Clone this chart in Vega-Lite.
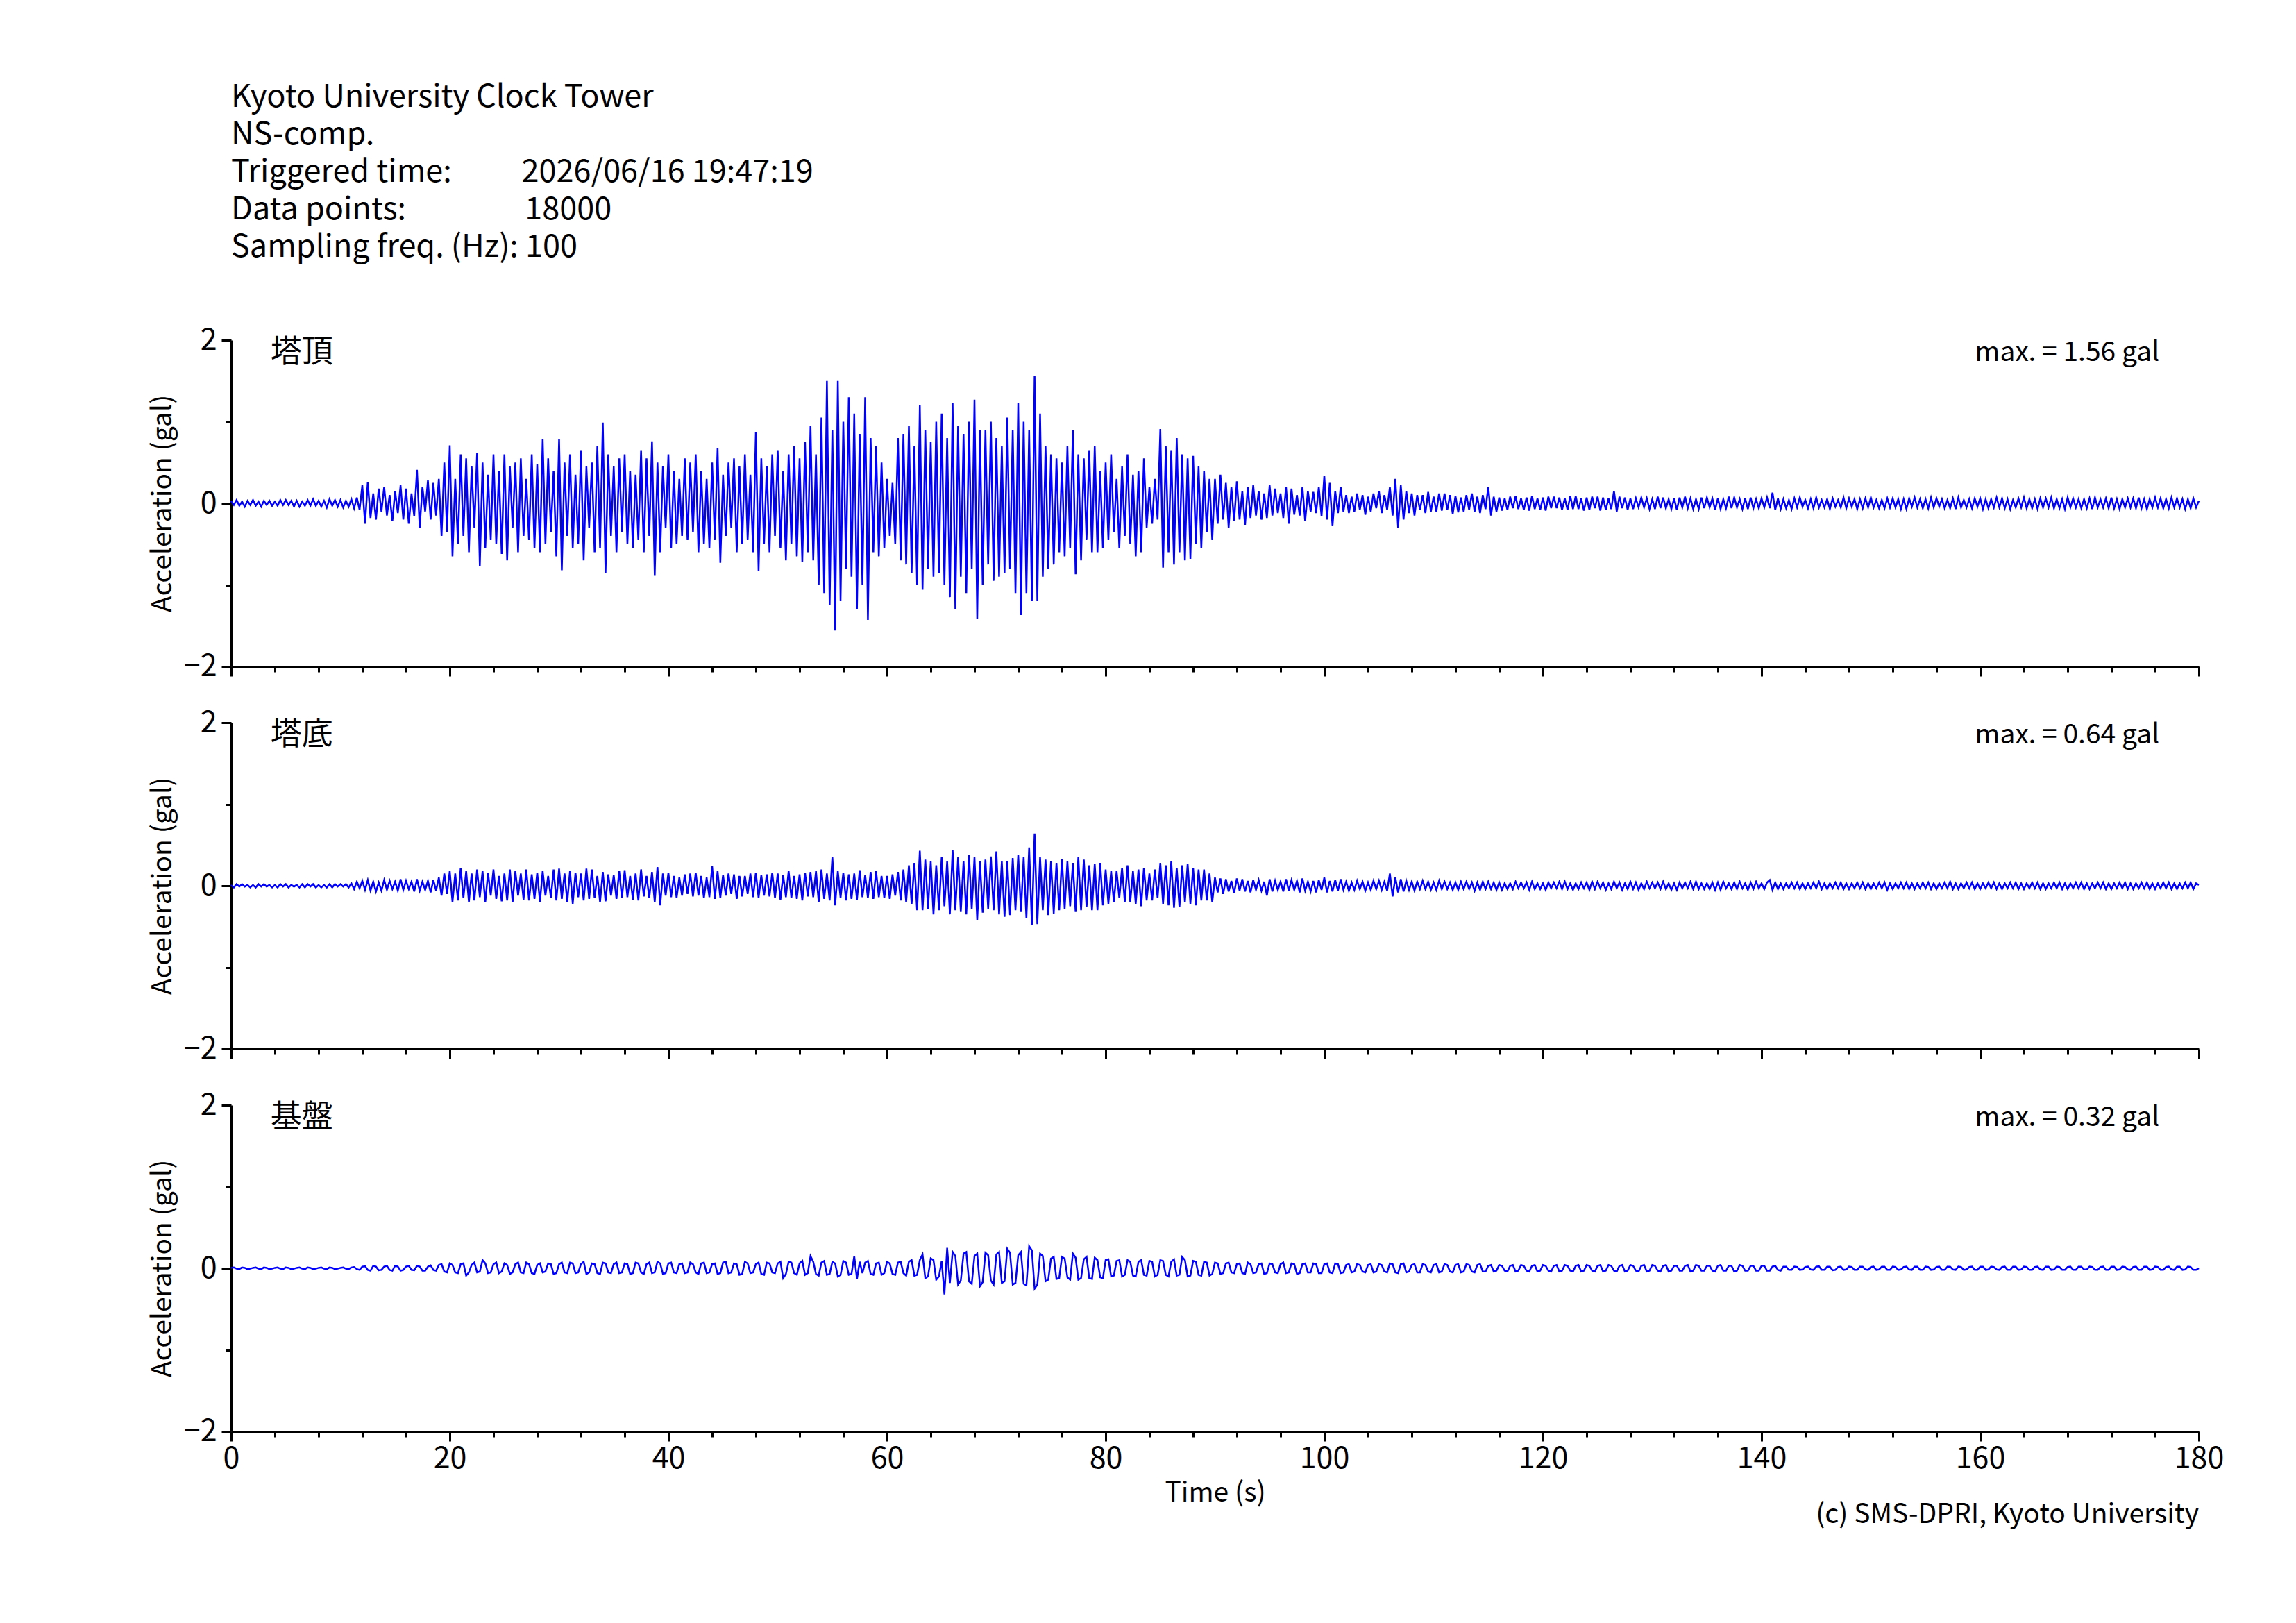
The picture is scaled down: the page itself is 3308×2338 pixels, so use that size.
{
"$schema": "https://vega.github.io/schema/vega-lite/v6.json",
"background": "white",
"autosize": {"type": "pad"},
"padding": {"left": 215, "top": 118, "right": 40, "bottom": 40},
"config": {
  "font": "Noto Sans CJK JP",
  "view": {"stroke": null},
  "axis": {"labelFont": "Noto Sans CJK JP", "titleFont": "Noto Sans CJK JP", "labelFontSize": 43, "titleFontSize": 39, "titleFontWeight": "normal", "labelColor": "black", "titleColor": "black", "domainColor": "black", "tickColor": "black", "domainWidth": 3, "tickWidth": 3, "grid": false, "labelOverlap": false, "labelFlush": false, "labelBound": false}
},
"data": {"values": [
{"t":0,"a":0.03,"b":0.01,"c":0.005},{"t":0.25,"a":-0.02,"b":-0.02,"c":0.01},{"t":0.5,"a":0.04,"b":0.02,"c":-0.005},{"t":0.75,"a":-0.03,"b":-0.01,"c":-0.01},
{"t":1,"a":0.02,"b":0.02,"c":0.01},{"t":1.25,"a":-0.04,"b":-0.01,"c":0.005},{"t":1.5,"a":0.03,"b":0.01,"c":-0.01},{"t":1.75,"a":-0.02,"b":-0.02,"c":-0.005},
{"t":2,"a":0.04,"b":0.01,"c":0.005},{"t":2.25,"a":-0.03,"b":-0.02,"c":0.01},{"t":2.5,"a":0.02,"b":0.02,"c":-0.005},{"t":2.75,"a":-0.04,"b":-0.01,"c":-0.01},
{"t":3,"a":0.03,"b":0.02,"c":0.01},{"t":3.25,"a":-0.02,"b":-0.01,"c":0.005},{"t":3.5,"a":0.03,"b":0.01,"c":-0.01},{"t":3.75,"a":-0.03,"b":-0.02,"c":-0.005},
{"t":4,"a":0.02,"b":0.01,"c":0.005},{"t":4.25,"a":-0.03,"b":-0.02,"c":0.01},{"t":4.5,"a":0.04,"b":0.02,"c":-0.005},{"t":4.75,"a":-0.02,"b":-0.01,"c":-0.01},
{"t":5,"a":0.04,"b":0.02,"c":0.01},{"t":5.25,"a":-0.02,"b":-0.02,"c":0.005},{"t":5.5,"a":0.03,"b":0.01,"c":-0.01},{"t":5.75,"a":-0.04,"b":-0.01,"c":-0.005},
{"t":6,"a":0.03,"b":0.01,"c":0.005},{"t":6.25,"a":-0.04,"b":-0.02,"c":0.01},{"t":6.5,"a":0.02,"b":0.02,"c":-0.005},{"t":6.75,"a":-0.03,"b":-0.02,"c":-0.01},
{"t":7,"a":0.04,"b":0.02,"c":0.01},{"t":7.25,"a":-0.03,"b":-0.01,"c":0.005},{"t":7.5,"a":0.05,"b":0.02,"c":-0.01},{"t":7.75,"a":-0.03,"b":-0.02,"c":-0.005},
{"t":8,"a":0.03,"b":0.01,"c":0.005},{"t":8.25,"a":-0.04,"b":-0.02,"c":0.01},{"t":8.5,"a":0.03,"b":0.01,"c":-0.005},{"t":8.75,"a":-0.05,"b":-0.02,"c":-0.01},
{"t":9,"a":0.05,"b":0.02,"c":0.01},{"t":9.25,"a":-0.03,"b":-0.02,"c":0.005},{"t":9.5,"a":0.04,"b":0.02,"c":-0.01},{"t":9.75,"a":-0.04,"b":-0.01,"c":-0.005},
{"t":10,"a":0.04,"b":0.02,"c":0.005},{"t":10.25,"a":-0.05,"b":-0.01,"c":0.01},{"t":10.5,"a":0.03,"b":0.02,"c":-0.005},{"t":10.75,"a":-0.04,"b":-0.02,"c":-0.01},
{"t":11,"a":0.05,"b":0.03,"c":0.01},{"t":11.25,"a":-0.06,"b":-0.04,"c":0.015},{"t":11.5,"a":0.07,"b":0.05,"c":-0.01},{"t":11.75,"a":-0.08,"b":-0.03,"c":-0.02},
{"t":12,"a":0.22,"b":0.06,"c":0.02},{"t":12.25,"a":-0.25,"b":-0.05,"c":0.025},{"t":12.5,"a":0.26,"b":0.07,"c":-0.02},{"t":12.75,"a":-0.18,"b":-0.06,"c":-0.03},
{"t":13,"a":0.12,"b":0.05,"c":0.03},{"t":13.25,"a":-0.2,"b":-0.07,"c":0.02},{"t":13.5,"a":0.18,"b":0.04,"c":-0.025},{"t":13.75,"a":-0.1,"b":-0.06,"c":-0.02},
{"t":14,"a":0.2,"b":0.07,"c":0.02},{"t":14.25,"a":-0.15,"b":-0.05,"c":0.03},{"t":14.5,"a":0.1,"b":0.06,"c":-0.02},{"t":14.75,"a":-0.22,"b":-0.04,"c":-0.03},
{"t":15,"a":0.15,"b":0.05,"c":0.03},{"t":15.25,"a":-0.12,"b":-0.06,"c":0.02},{"t":15.5,"a":0.22,"b":0.08,"c":-0.03},{"t":15.75,"a":-0.2,"b":-0.05,"c":-0.02},
{"t":16,"a":0.18,"b":0.06,"c":0.02},{"t":16.25,"a":-0.25,"b":-0.04,"c":0.03},{"t":16.5,"a":0.12,"b":0.05,"c":-0.02},{"t":16.75,"a":-0.16,"b":-0.07,"c":-0.025},
{"t":17,"a":0.41,"b":0.08,"c":0.03},{"t":17.25,"a":-0.3,"b":-0.06,"c":0.02},{"t":17.5,"a":0.2,"b":0.05,"c":-0.03},{"t":17.75,"a":-0.1,"b":-0.05,"c":-0.03},
{"t":18,"a":0.28,"b":0.06,"c":0.02},{"t":18.25,"a":-0.2,"b":-0.08,"c":0.035},{"t":18.5,"a":0.25,"b":0.07,"c":-0.02},{"t":18.75,"a":-0.15,"b":-0.06,"c":-0.03},
{"t":19,"a":0.3,"b":0.1,"c":0.04},{"t":19.25,"a":-0.4,"b":-0.12,"c":0.05},{"t":19.5,"a":0.5,"b":0.15,"c":-0.04},{"t":19.75,"a":-0.35,"b":-0.1,"c":-0.05},
{"t":20,"a":0.71,"b":0.18,"c":0.06},{"t":20.25,"a":-0.65,"b":-0.2,"c":0.04},{"t":20.5,"a":0.3,"b":0.15,"c":-0.05},{"t":20.75,"a":-0.5,"b":-0.18,"c":-0.06},
{"t":21,"a":0.6,"b":0.22,"c":0.05},{"t":21.25,"a":-0.4,"b":-0.15,"c":0.06},{"t":21.5,"a":0.55,"b":0.18,"c":-0.09},{"t":21.75,"a":-0.6,"b":-0.2,"c":-0.05},
{"t":22,"a":0.45,"b":0.15,"c":0.04},{"t":22.25,"a":-0.3,"b":-0.18,"c":0.07},{"t":22.5,"a":0.62,"b":0.2,"c":-0.05},{"t":22.75,"a":-0.77,"b":-0.14,"c":-0.04},
{"t":23,"a":0.5,"b":0.18,"c":0.1},{"t":23.25,"a":-0.55,"b":-0.2,"c":0.06},{"t":23.5,"a":0.35,"b":0.16,"c":-0.06},{"t":23.75,"a":-0.45,"b":-0.12,"c":-0.05},
{"t":24,"a":0.6,"b":0.2,"c":0.05},{"t":24.25,"a":-0.5,"b":-0.16,"c":0.07},{"t":24.5,"a":0.4,"b":0.12,"c":-0.06},{"t":24.75,"a":-0.62,"b":-0.19,"c":-0.04},
{"t":25,"a":0.6,"b":0.15,"c":0.06},{"t":25.25,"a":-0.7,"b":-0.18,"c":0.04},{"t":25.5,"a":0.45,"b":0.2,"c":-0.07},{"t":25.75,"a":-0.3,"b":-0.2,"c":-0.05},
{"t":26,"a":0.5,"b":0.18,"c":0.05},{"t":26.25,"a":-0.6,"b":-0.12,"c":0.07},{"t":26.5,"a":0.55,"b":0.15,"c":-0.05},{"t":26.75,"a":-0.4,"b":-0.17,"c":-0.06},
{"t":27,"a":0.3,"b":0.2,"c":0.07},{"t":27.25,"a":-0.45,"b":-0.18,"c":0.05},{"t":27.5,"a":0.6,"b":0.14,"c":-0.06},{"t":27.75,"a":-0.55,"b":-0.16,"c":-0.07},
{"t":28,"a":0.48,"b":0.16,"c":0.04},{"t":28.25,"a":-0.6,"b":-0.2,"c":0.06},{"t":28.5,"a":0.79,"b":0.18,"c":-0.05},{"t":28.75,"a":-0.5,"b":-0.12,"c":-0.04},
{"t":29,"a":0.55,"b":0.12,"c":0.06},{"t":29.25,"a":-0.35,"b":-0.15,"c":0.05},{"t":29.5,"a":0.4,"b":0.2,"c":-0.07},{"t":29.75,"a":-0.65,"b":-0.18,"c":-0.06},
{"t":30,"a":0.79,"b":0.21,"c":0.05},{"t":30.25,"a":-0.82,"b":-0.16,"c":0.07},{"t":30.5,"a":0.5,"b":0.15,"c":-0.05},{"t":30.75,"a":-0.4,"b":-0.2,"c":-0.06},
{"t":31,"a":0.6,"b":0.18,"c":0.07},{"t":31.25,"a":-0.55,"b":-0.22,"c":0.06},{"t":31.5,"a":0.35,"b":0.16,"c":-0.06},{"t":31.75,"a":-0.5,"b":-0.14,"c":-0.05},
{"t":32,"a":0.65,"b":0.15,"c":0.05},{"t":32.25,"a":-0.7,"b":-0.18,"c":0.08},{"t":32.5,"a":0.45,"b":0.21,"c":-0.07},{"t":32.75,"a":-0.3,"b":-0.16,"c":-0.05},
{"t":33,"a":0.5,"b":0.2,"c":0.06},{"t":33.25,"a":-0.6,"b":-0.15,"c":0.05},{"t":33.5,"a":0.7,"b":0.12,"c":-0.06},{"t":33.75,"a":-0.55,"b":-0.2,"c":-0.07},
{"t":34,"a":0.99,"b":0.17,"c":0.07},{"t":34.25,"a":-0.85,"b":-0.19,"c":0.06},{"t":34.5,"a":0.6,"b":0.14,"c":-0.05},{"t":34.75,"a":-0.4,"b":-0.12,"c":-0.06},
{"t":35,"a":0.45,"b":0.13,"c":0.05},{"t":35.25,"a":-0.6,"b":-0.16,"c":0.07},{"t":35.5,"a":0.55,"b":0.18,"c":-0.06},{"t":35.75,"a":-0.35,"b":-0.15,"c":-0.05},
{"t":36,"a":0.6,"b":0.19,"c":0.06},{"t":36.25,"a":-0.5,"b":-0.14,"c":0.05},{"t":36.5,"a":0.4,"b":0.12,"c":-0.07},{"t":36.75,"a":-0.55,"b":-0.17,"c":-0.06},
{"t":37,"a":0.35,"b":0.15,"c":0.07},{"t":37.25,"a":-0.45,"b":-0.18,"c":0.06},{"t":37.5,"a":0.65,"b":0.2,"c":-0.05},{"t":37.75,"a":-0.6,"b":-0.13,"c":-0.07},
{"t":38,"a":0.55,"b":0.12,"c":0.05},{"t":38.25,"a":-0.4,"b":-0.15,"c":0.07},{"t":38.5,"a":0.76,"b":0.17,"c":-0.06},{"t":38.75,"a":-0.89,"b":-0.2,"c":-0.05},
{"t":39,"a":0.5,"b":0.23,"c":0.08},{"t":39.25,"a":-0.6,"b":-0.24,"c":0.06},{"t":39.5,"a":0.45,"b":0.15,"c":-0.07},{"t":39.75,"a":-0.3,"b":-0.12,"c":-0.06},
{"t":40,"a":0.6,"b":0.16,"c":0.06},{"t":40.25,"a":-0.55,"b":-0.14,"c":0.07},{"t":40.5,"a":0.4,"b":0.12,"c":-0.05},{"t":40.75,"a":-0.5,"b":-0.15,"c":-0.06},
{"t":41,"a":0.3,"b":0.1,"c":0.05},{"t":41.25,"a":-0.4,"b":-0.12,"c":0.06},{"t":41.5,"a":0.55,"b":0.14,"c":-0.06},{"t":41.75,"a":-0.45,"b":-0.1,"c":-0.05},
{"t":42,"a":0.5,"b":0.15,"c":0.07},{"t":42.25,"a":-0.35,"b":-0.13,"c":0.05},{"t":42.5,"a":0.6,"b":0.16,"c":-0.05},{"t":42.75,"a":-0.6,"b":-0.12,"c":-0.07},
{"t":43,"a":0.4,"b":0.12,"c":0.06},{"t":43.25,"a":-0.5,"b":-0.15,"c":0.07},{"t":43.5,"a":0.3,"b":0.1,"c":-0.06},{"t":43.75,"a":-0.55,"b":-0.14,"c":-0.05},
{"t":44,"a":0.5,"b":0.24,"c":0.05},{"t":44.25,"a":-0.45,"b":-0.16,"c":0.06},{"t":44.5,"a":0.68,"b":0.18,"c":-0.07},{"t":44.75,"a":-0.73,"b":-0.15,"c":-0.06},
{"t":45,"a":0.35,"b":0.13,"c":0.07},{"t":45.25,"a":-0.4,"b":-0.12,"c":0.08},{"t":45.5,"a":0.5,"b":0.15,"c":-0.06},{"t":45.75,"a":-0.3,"b":-0.1,"c":-0.05},
{"t":46,"a":0.55,"b":0.14,"c":0.06},{"t":46.25,"a":-0.6,"b":-0.16,"c":0.05},{"t":46.5,"a":0.45,"b":0.12,"c":-0.08},{"t":46.75,"a":-0.5,"b":-0.13,"c":-0.07},
{"t":47,"a":0.6,"b":0.12,"c":0.08},{"t":47.25,"a":-0.45,"b":-0.1,"c":0.06},{"t":47.5,"a":0.35,"b":0.15,"c":-0.06},{"t":47.75,"a":-0.6,"b":-0.14,"c":-0.05},
{"t":48,"a":0.87,"b":0.16,"c":0.05},{"t":48.25,"a":-0.83,"b":-0.15,"c":0.07},{"t":48.5,"a":0.55,"b":0.13,"c":-0.07},{"t":48.75,"a":-0.5,"b":-0.12,"c":-0.08},
{"t":49,"a":0.45,"b":0.14,"c":0.07},{"t":49.25,"a":-0.6,"b":-0.13,"c":0.06},{"t":49.5,"a":0.6,"b":0.16,"c":-0.05},{"t":49.75,"a":-0.4,"b":-0.15,"c":-0.06},
{"t":50,"a":0.65,"b":0.15,"c":0.06},{"t":50.25,"a":-0.55,"b":-0.17,"c":0.08},{"t":50.5,"a":0.4,"b":0.13,"c":-0.12},{"t":50.75,"a":-0.7,"b":-0.14,"c":-0.07},
{"t":51,"a":0.6,"b":0.18,"c":0.08},{"t":51.25,"a":-0.5,"b":-0.15,"c":0.07},{"t":51.5,"a":0.7,"b":0.12,"c":-0.06},{"t":51.75,"a":-0.65,"b":-0.16,"c":-0.08},
{"t":52,"a":0.55,"b":0.14,"c":0.06},{"t":52.25,"a":-0.72,"b":-0.18,"c":0.09},{"t":52.5,"a":0.75,"b":0.16,"c":-0.08},{"t":52.75,"a":-0.6,"b":-0.13,"c":-0.06},
{"t":53,"a":0.95,"b":0.17,"c":0.15},{"t":53.25,"a":-0.7,"b":-0.14,"c":0.08},{"t":53.5,"a":0.6,"b":0.18,"c":-0.07},{"t":53.75,"a":-1.0,"b":-0.2,"c":-0.09},
{"t":54,"a":1.05,"b":0.2,"c":0.07},{"t":54.25,"a":-1.1,"b":-0.16,"c":0.09},{"t":54.5,"a":1.5,"b":0.15,"c":-0.08},{"t":54.75,"a":-1.25,"b":-0.18,"c":-0.07},
{"t":55,"a":0.9,"b":0.35,"c":0.08},{"t":55.25,"a":-1.56,"b":-0.24,"c":0.06},{"t":55.5,"a":1.5,"b":0.18,"c":-0.1},{"t":55.75,"a":-1.2,"b":-0.15,"c":-0.08},
{"t":56,"a":1.0,"b":0.16,"c":0.09},{"t":56.25,"a":-0.8,"b":-0.18,"c":0.07},{"t":56.5,"a":1.3,"b":0.14,"c":-0.08},{"t":56.75,"a":-0.9,"b":-0.16,"c":-0.07},
{"t":57,"a":1.1,"b":0.15,"c":0.15},{"t":57.25,"a":-1.3,"b":-0.17,"c":-0.13},{"t":57.5,"a":0.85,"b":0.19,"c":0.08},{"t":57.75,"a":-1.0,"b":-0.14,"c":-0.06},
{"t":58,"a":1.3,"b":0.13,"c":0.07},{"t":58.25,"a":-1.43,"b":-0.15,"c":0.09},{"t":58.5,"a":0.8,"b":0.17,"c":-0.07},{"t":58.75,"a":-0.6,"b":-0.16,"c":-0.08},
{"t":59,"a":0.7,"b":0.18,"c":0.06},{"t":59.25,"a":-0.65,"b":-0.14,"c":0.07},{"t":59.5,"a":0.5,"b":0.12,"c":-0.08},{"t":59.75,"a":-0.55,"b":-0.15,"c":-0.06},
{"t":60,"a":0.3,"b":0.12,"c":0.08},{"t":60.25,"a":-0.4,"b":-0.16,"c":0.06},{"t":60.5,"a":0.25,"b":0.14,"c":-0.07},{"t":60.75,"a":-0.5,"b":-0.12,"c":-0.08},
{"t":61,"a":0.8,"b":0.17,"c":0.07},{"t":61.25,"a":-0.7,"b":-0.18,"c":0.08},{"t":61.5,"a":0.85,"b":0.2,"c":-0.06},{"t":61.75,"a":-0.75,"b":-0.2,"c":-0.09},
{"t":62,"a":0.95,"b":0.25,"c":0.08},{"t":62.25,"a":-0.85,"b":-0.22,"c":0.1},{"t":62.5,"a":0.7,"b":0.28,"c":-0.09},{"t":62.75,"a":-1.0,"b":-0.3,"c":-0.08},
{"t":63,"a":1.2,"b":0.43,"c":0.1},{"t":63.25,"a":-1.06,"b":-0.3,"c":0.17},{"t":63.5,"a":0.9,"b":0.32,"c":-0.12},{"t":63.75,"a":-0.8,"b":-0.28,"c":-0.1},
{"t":64,"a":0.75,"b":0.3,"c":0.12},{"t":64.25,"a":-0.9,"b":-0.35,"c":0.1},{"t":64.5,"a":1.0,"b":0.25,"c":-0.14},{"t":64.75,"a":-0.85,"b":-0.3,"c":-0.1},
{"t":65,"a":1.1,"b":0.35,"c":0.09},{"t":65.25,"a":-1.0,"b":-0.25,"c":-0.32},{"t":65.5,"a":0.8,"b":0.3,"c":0.25},{"t":65.75,"a":-1.15,"b":-0.35,"c":-0.18},
{"t":66,"a":1.23,"b":0.44,"c":0.2},{"t":66.25,"a":-1.3,"b":-0.3,"c":0.15},{"t":66.5,"a":0.95,"b":0.35,"c":-0.2},{"t":66.75,"a":-0.9,"b":-0.32,"c":-0.15},
{"t":67,"a":0.85,"b":0.3,"c":0.18},{"t":67.25,"a":-1.1,"b":-0.35,"c":0.2},{"t":67.5,"a":1.0,"b":0.38,"c":-0.16},{"t":67.75,"a":-0.8,"b":-0.28,"c":-0.19},
{"t":68,"a":1.27,"b":0.35,"c":0.15},{"t":68.25,"a":-1.42,"b":-0.42,"c":0.18},{"t":68.5,"a":0.9,"b":0.3,"c":-0.22},{"t":68.75,"a":-1.0,"b":-0.33,"c":-0.17},
{"t":69,"a":0.9,"b":0.32,"c":0.19},{"t":69.25,"a":-0.75,"b":-0.28,"c":0.16},{"t":69.5,"a":1.0,"b":0.36,"c":-0.15},{"t":69.75,"a":-0.95,"b":-0.3,"c":-0.2},
{"t":70,"a":0.8,"b":0.42,"c":0.17},{"t":70.25,"a":-0.9,"b":-0.35,"c":0.2},{"t":70.5,"a":0.7,"b":0.3,"c":-0.18},{"t":70.75,"a":-0.85,"b":-0.38,"c":-0.16},
{"t":71,"a":1.05,"b":0.3,"c":0.24},{"t":71.25,"a":-0.8,"b":-0.36,"c":0.19},{"t":71.5,"a":0.9,"b":0.34,"c":-0.2},{"t":71.75,"a":-1.1,"b":-0.3,"c":-0.18},
{"t":72,"a":1.23,"b":0.38,"c":0.16},{"t":72.25,"a":-1.37,"b":-0.32,"c":0.2},{"t":72.5,"a":1.0,"b":0.35,"c":-0.19},{"t":72.75,"a":-1.1,"b":-0.4,"c":-0.21},
{"t":73,"a":0.9,"b":0.47,"c":0.27},{"t":73.25,"a":-1.2,"b":-0.48,"c":0.22},{"t":73.5,"a":1.56,"b":0.64,"c":-0.25},{"t":73.75,"a":-1.2,"b":-0.47,"c":-0.2},
{"t":74,"a":1.1,"b":0.35,"c":0.18},{"t":74.25,"a":-0.9,"b":-0.3,"c":0.15},{"t":74.5,"a":0.7,"b":0.32,"c":-0.16},{"t":74.75,"a":-0.8,"b":-0.36,"c":-0.14},
{"t":75,"a":0.6,"b":0.3,"c":0.12},{"t":75.25,"a":-0.75,"b":-0.34,"c":0.14},{"t":75.5,"a":0.55,"b":0.28,"c":-0.13},{"t":75.75,"a":-0.6,"b":-0.3,"c":-0.12},
{"t":76,"a":0.5,"b":0.33,"c":0.14},{"t":76.25,"a":-0.65,"b":-0.28,"c":0.12},{"t":76.5,"a":0.7,"b":0.3,"c":-0.11},{"t":76.75,"a":-0.55,"b":-0.25,"c":-0.14},
{"t":77,"a":0.9,"b":0.28,"c":0.18},{"t":77.25,"a":-0.87,"b":-0.32,"c":0.13},{"t":77.5,"a":0.6,"b":0.35,"c":-0.14},{"t":77.75,"a":-0.7,"b":-0.3,"c":-0.12},
{"t":78,"a":0.55,"b":0.32,"c":0.11},{"t":78.25,"a":-0.45,"b":-0.26,"c":0.14},{"t":78.5,"a":0.65,"b":0.25,"c":-0.12},{"t":78.75,"a":-0.6,"b":-0.3,"c":-0.13},
{"t":79,"a":0.7,"b":0.27,"c":0.13},{"t":79.25,"a":-0.6,"b":-0.3,"c":0.1},{"t":79.5,"a":0.4,"b":0.28,"c":-0.11},{"t":79.75,"a":-0.55,"b":-0.24,"c":-0.12},
{"t":80,"a":0.5,"b":0.2,"c":0.1},{"t":80.25,"a":-0.45,"b":-0.22,"c":0.11},{"t":80.5,"a":0.6,"b":0.18,"c":-0.1},{"t":80.75,"a":-0.35,"b":-0.2,"c":-0.09},
{"t":81,"a":0.3,"b":0.18,"c":0.09},{"t":81.25,"a":-0.55,"b":-0.15,"c":0.1},{"t":81.5,"a":0.45,"b":0.22,"c":-0.1},{"t":81.75,"a":-0.4,"b":-0.2,"c":-0.08},
{"t":82,"a":0.6,"b":0.25,"c":0.1},{"t":82.25,"a":-0.5,"b":-0.2,"c":0.08},{"t":82.5,"a":0.35,"b":0.18,"c":-0.09},{"t":82.75,"a":-0.65,"b":-0.22,"c":-0.1},
{"t":83,"a":0.4,"b":0.2,"c":0.08},{"t":83.25,"a":-0.6,"b":-0.25,"c":0.1},{"t":83.5,"a":0.55,"b":0.22,"c":-0.08},{"t":83.75,"a":-0.3,"b":-0.18,"c":-0.09},
{"t":84,"a":0.2,"b":0.15,"c":0.09},{"t":84.25,"a":-0.25,"b":-0.18,"c":0.08},{"t":84.5,"a":0.3,"b":0.2,"c":-0.1},{"t":84.75,"a":-0.2,"b":-0.15,"c":-0.08},
{"t":85,"a":0.91,"b":0.28,"c":0.1},{"t":85.25,"a":-0.79,"b":-0.22,"c":0.09},{"t":85.5,"a":0.7,"b":0.25,"c":-0.08},{"t":85.75,"a":-0.6,"b":-0.24,"c":-0.1},
{"t":86,"a":0.65,"b":0.3,"c":0.08},{"t":86.25,"a":-0.75,"b":-0.27,"c":0.11},{"t":86.5,"a":0.8,"b":0.22,"c":-0.09},{"t":86.75,"a":-0.6,"b":-0.26,"c":-0.08},
{"t":87,"a":0.6,"b":0.25,"c":0.14},{"t":87.25,"a":-0.7,"b":-0.2,"c":0.1},{"t":87.5,"a":0.55,"b":0.27,"c":-0.1},{"t":87.75,"a":-0.68,"b":-0.22,"c":-0.09},
{"t":88,"a":0.58,"b":0.22,"c":0.09},{"t":88.25,"a":-0.5,"b":-0.24,"c":0.08},{"t":88.5,"a":0.45,"b":0.2,"c":-0.08},{"t":88.75,"a":-0.55,"b":-0.18,"c":-0.09},
{"t":89,"a":0.4,"b":0.2,"c":0.08},{"t":89.25,"a":-0.35,"b":-0.18,"c":0.07},{"t":89.5,"a":0.3,"b":0.15,"c":-0.09},{"t":89.75,"a":-0.45,"b":-0.2,"c":-0.07},
{"t":90,"a":0.3,"b":0.1,"c":0.07},{"t":90.25,"a":-0.25,"b":-0.08,"c":0.06},{"t":90.5,"a":0.35,"b":0.09,"c":-0.07},{"t":90.75,"a":-0.2,"b":-0.1,"c":-0.06},
{"t":91,"a":0.25,"b":0.08,"c":0.06},{"t":91.25,"a":-0.3,"b":-0.07,"c":0.07},{"t":91.5,"a":0.2,"b":0.06,"c":-0.05},{"t":91.75,"a":-0.22,"b":-0.09,"c":-0.06},
{"t":92,"a":0.27,"b":0.09,"c":0.05},{"t":92.25,"a":-0.2,"b":-0.06,"c":0.06},{"t":92.5,"a":0.15,"b":0.08,"c":-0.06},{"t":92.75,"a":-0.27,"b":-0.07,"c":-0.07},
{"t":93,"a":0.2,"b":0.06,"c":0.07},{"t":93.25,"a":-0.18,"b":-0.08,"c":0.05},{"t":93.5,"a":0.22,"b":0.07,"c":-0.06},{"t":93.75,"a":-0.15,"b":-0.05,"c":-0.05},
{"t":94,"a":0.15,"b":0.07,"c":0.05},{"t":94.25,"a":-0.2,"b":-0.06,"c":0.06},{"t":94.5,"a":0.12,"b":0.05,"c":-0.07},{"t":94.75,"a":-0.18,"b":-0.12,"c":-0.06},
{"t":95,"a":0.22,"b":0.08,"c":0.06},{"t":95.25,"a":-0.15,"b":-0.07,"c":0.05},{"t":95.5,"a":0.18,"b":0.06,"c":-0.05},{"t":95.75,"a":-0.12,"b":-0.05,"c":-0.06},
{"t":96,"a":0.12,"b":0.05,"c":0.05},{"t":96.25,"a":-0.18,"b":-0.07,"c":0.07},{"t":96.5,"a":0.2,"b":0.08,"c":-0.06},{"t":96.75,"a":-0.25,"b":-0.06,"c":-0.05},
{"t":97,"a":0.18,"b":0.07,"c":0.06},{"t":97.25,"a":-0.14,"b":-0.05,"c":0.05},{"t":97.5,"a":0.1,"b":0.06,"c":-0.07},{"t":97.75,"a":-0.15,"b":-0.08,"c":-0.06},
{"t":98,"a":0.2,"b":0.09,"c":0.05},{"t":98.25,"a":-0.22,"b":-0.06,"c":0.06},{"t":98.5,"a":0.15,"b":0.05,"c":-0.05},{"t":98.75,"a":-0.1,"b":-0.07,"c":-0.05},
{"t":99,"a":0.14,"b":0.06,"c":0.06},{"t":99.25,"a":-0.12,"b":-0.08,"c":0.05},{"t":99.5,"a":0.2,"b":0.07,"c":-0.06},{"t":99.75,"a":-0.16,"b":-0.05,"c":-0.06},
{"t":100,"a":0.34,"b":0.1,"c":0.05},{"t":100.25,"a":-0.2,"b":-0.08,"c":0.06},{"t":100.5,"a":0.25,"b":0.06,"c":-0.05},{"t":100.75,"a":-0.28,"b":-0.07,"c":-0.06},
{"t":101,"a":0.15,"b":0.07,"c":0.06},{"t":101.25,"a":-0.12,"b":-0.06,"c":0.05},{"t":101.5,"a":0.2,"b":0.08,"c":-0.06},{"t":101.75,"a":-0.1,"b":-0.05,"c":-0.05},
{"t":102,"a":0.1,"b":0.05,"c":0.04},{"t":102.25,"a":-0.12,"b":-0.06,"c":0.05},{"t":102.5,"a":0.08,"b":0.04,"c":-0.05},{"t":102.75,"a":-0.1,"b":-0.05,"c":-0.04},
{"t":103,"a":0.12,"b":0.06,"c":0.05},{"t":103.25,"a":-0.08,"b":-0.04,"c":0.04},{"t":103.5,"a":0.1,"b":0.05,"c":-0.04},{"t":103.75,"a":-0.14,"b":-0.06,"c":-0.05},
{"t":104,"a":0.08,"b":0.04,"c":0.04},{"t":104.25,"a":-0.1,"b":-0.05,"c":0.05},{"t":104.5,"a":0.12,"b":0.06,"c":-0.05},{"t":104.75,"a":-0.06,"b":-0.04,"c":-0.04},
{"t":105,"a":0.15,"b":0.06,"c":0.05},{"t":105.25,"a":-0.12,"b":-0.05,"c":0.04},{"t":105.5,"a":0.1,"b":0.05,"c":-0.04},{"t":105.75,"a":-0.08,"b":-0.06,"c":-0.05},
{"t":106,"a":0.2,"b":0.15,"c":0.06},{"t":106.25,"a":-0.15,"b":-0.13,"c":0.05},{"t":106.5,"a":0.3,"b":0.1,"c":-0.05},{"t":106.75,"a":-0.3,"b":-0.08,"c":-0.06},
{"t":107,"a":0.22,"b":0.08,"c":0.05},{"t":107.25,"a":-0.2,"b":-0.07,"c":0.06},{"t":107.5,"a":0.15,"b":0.06,"c":-0.05},{"t":107.75,"a":-0.12,"b":-0.05,"c":-0.04},
{"t":108,"a":0.12,"b":0.05,"c":0.04},{"t":108.25,"a":-0.15,"b":-0.06,"c":0.05},{"t":108.5,"a":0.1,"b":0.05,"c":-0.05},{"t":108.75,"a":-0.08,"b":-0.04,"c":-0.05},
{"t":109,"a":0.1,"b":0.06,"c":0.05},{"t":109.25,"a":-0.12,"b":-0.04,"c":0.04},{"t":109.5,"a":0.14,"b":0.05,"c":-0.04},{"t":109.75,"a":-0.1,"b":-0.05,"c":-0.05},
{"t":110,"a":0.08,"b":0.04,"c":0.04},{"t":110.25,"a":-0.1,"b":-0.05,"c":0.05},{"t":110.5,"a":0.12,"b":0.06,"c":-0.05},{"t":110.75,"a":-0.09,"b":-0.04,"c":-0.04},
{"t":111,"a":0.12,"b":0.05,"c":0.05},{"t":111.25,"a":-0.08,"b":-0.04,"c":0.04},{"t":111.5,"a":0.1,"b":0.04,"c":-0.04},{"t":111.75,"a":-0.13,"b":-0.05,"c":-0.05},
{"t":112,"a":0.09,"b":0.04,"c":0.04},{"t":112.25,"a":-0.11,"b":-0.05,"c":0.05},{"t":112.5,"a":0.07,"b":0.05,"c":-0.05},{"t":112.75,"a":-0.1,"b":-0.04,"c":-0.04},
{"t":113,"a":0.1,"b":0.05,"c":0.05},{"t":113.25,"a":-0.08,"b":-0.04,"c":0.04},{"t":113.5,"a":0.12,"b":0.04,"c":-0.04},{"t":113.75,"a":-0.1,"b":-0.06,"c":-0.05},
{"t":114,"a":0.08,"b":0.04,"c":0.04},{"t":114.25,"a":-0.12,"b":-0.05,"c":0.05},{"t":114.5,"a":0.1,"b":0.05,"c":-0.04},{"t":114.75,"a":-0.07,"b":-0.04,"c":-0.04},
{"t":115,"a":0.2,"b":0.05,"c":0.03},{"t":115.25,"a":-0.15,"b":-0.04,"c":0.04},{"t":115.5,"a":0.08,"b":0.04,"c":-0.04},{"t":115.75,"a":-0.1,"b":-0.05,"c":-0.03},
{"t":116,"a":0.07,"b":0.04,"c":0.04},{"t":116.25,"a":-0.09,"b":-0.05,"c":0.03},{"t":116.5,"a":0.06,"b":0.03,"c":-0.03},{"t":116.75,"a":-0.08,"b":-0.04,"c":-0.04},
{"t":117,"a":0.08,"b":0.03,"c":0.03},{"t":117.25,"a":-0.06,"b":-0.04,"c":0.04},{"t":117.5,"a":0.09,"b":0.05,"c":-0.04},{"t":117.75,"a":-0.07,"b":-0.03,"c":-0.03},
{"t":118,"a":0.06,"b":0.04,"c":0.04},{"t":118.25,"a":-0.08,"b":-0.03,"c":0.03},{"t":118.5,"a":0.07,"b":0.04,"c":-0.03},{"t":118.75,"a":-0.09,"b":-0.05,"c":-0.04},
{"t":119,"a":0.09,"b":0.05,"c":0.03},{"t":119.25,"a":-0.07,"b":-0.04,"c":0.04},{"t":119.5,"a":0.06,"b":0.03,"c":-0.04},{"t":119.75,"a":-0.08,"b":-0.04,"c":-0.03},
{"t":120,"a":0.07,"b":0.03,"c":0.04},{"t":120.25,"a":-0.09,"b":-0.05,"c":0.03},{"t":120.5,"a":0.08,"b":0.04,"c":-0.03},{"t":120.75,"a":-0.06,"b":-0.03,"c":-0.04},
{"t":121,"a":0.08,"b":0.04,"c":0.03},{"t":121.25,"a":-0.06,"b":-0.03,"c":0.04},{"t":121.5,"a":0.07,"b":0.05,"c":-0.04},{"t":121.75,"a":-0.08,"b":-0.04,"c":-0.03},
{"t":122,"a":0.06,"b":0.05,"c":0.04},{"t":122.25,"a":-0.08,"b":-0.04,"c":0.03},{"t":122.5,"a":0.09,"b":0.03,"c":-0.03},{"t":122.75,"a":-0.07,"b":-0.05,"c":-0.04},
{"t":123,"a":0.09,"b":0.03,"c":0.03},{"t":123.25,"a":-0.07,"b":-0.04,"c":0.04},{"t":123.5,"a":0.06,"b":0.04,"c":-0.04},{"t":123.75,"a":-0.09,"b":-0.03,"c":-0.03},
{"t":124,"a":0.07,"b":0.04,"c":0.04},{"t":124.25,"a":-0.08,"b":-0.05,"c":0.03},{"t":124.5,"a":0.08,"b":0.05,"c":-0.03},{"t":124.75,"a":-0.06,"b":-0.04,"c":-0.04},
{"t":125,"a":0.08,"b":0.05,"c":0.03},{"t":125.25,"a":-0.09,"b":-0.03,"c":0.04},{"t":125.5,"a":0.07,"b":0.04,"c":-0.04},{"t":125.75,"a":-0.08,"b":-0.05,"c":-0.03},
{"t":126,"a":0.06,"b":0.03,"c":0.04},{"t":126.25,"a":-0.07,"b":-0.04,"c":0.03},{"t":126.5,"a":0.15,"b":0.05,"c":-0.03},{"t":126.75,"a":-0.1,"b":-0.03,"c":-0.04},
{"t":127,"a":0.08,"b":0.04,"c":0.03},{"t":127.25,"a":-0.06,"b":-0.05,"c":0.04},{"t":127.5,"a":0.07,"b":0.03,"c":-0.04},{"t":127.75,"a":-0.08,"b":-0.04,"c":-0.03},
{"t":128,"a":0.06,"b":0.05,"c":0.04},{"t":128.25,"a":-0.07,"b":-0.04,"c":0.03},{"t":128.5,"a":0.06,"b":0.04,"c":-0.03},{"t":128.75,"a":-0.05,"b":-0.05,"c":-0.04},
{"t":129,"a":0.07,"b":0.03,"c":0.03},{"t":129.25,"a":-0.05,"b":-0.04,"c":0.04},{"t":129.5,"a":0.06,"b":0.05,"c":-0.04},{"t":129.75,"a":-0.07,"b":-0.03,"c":-0.03},
{"t":130,"a":0.05,"b":0.04,"c":0.04},{"t":130.25,"a":-0.07,"b":-0.03,"c":0.03},{"t":130.5,"a":0.08,"b":0.04,"c":-0.03},{"t":130.75,"a":-0.06,"b":-0.04,"c":-0.04},
{"t":131,"a":0.07,"b":0.05,"c":0.03},{"t":131.25,"a":-0.06,"b":-0.04,"c":0.04},{"t":131.5,"a":0.05,"b":0.03,"c":-0.04},{"t":131.75,"a":-0.07,"b":-0.05,"c":-0.03},
{"t":132,"a":0.06,"b":0.03,"c":0.03},{"t":132.25,"a":-0.08,"b":-0.05,"c":0.03},{"t":132.5,"a":0.07,"b":0.04,"c":-0.03},{"t":132.75,"a":-0.05,"b":-0.03,"c":-0.03},
{"t":133,"a":0.08,"b":0.04,"c":0.03},{"t":133.25,"a":-0.06,"b":-0.03,"c":0.04},{"t":133.5,"a":0.06,"b":0.05,"c":-0.04},{"t":133.75,"a":-0.07,"b":-0.04,"c":-0.03},
{"t":134,"a":0.05,"b":0.05,"c":0.04},{"t":134.25,"a":-0.07,"b":-0.04,"c":0.03},{"t":134.5,"a":0.07,"b":0.03,"c":-0.03},{"t":134.75,"a":-0.06,"b":-0.04,"c":-0.03},
{"t":135,"a":0.07,"b":0.03,"c":0.03},{"t":135.25,"a":-0.05,"b":-0.04,"c":0.03},{"t":135.5,"a":0.06,"b":0.04,"c":-0.03},{"t":135.75,"a":-0.08,"b":-0.05,"c":-0.04},
{"t":136,"a":0.06,"b":0.04,"c":0.03},{"t":136.25,"a":-0.07,"b":-0.05,"c":0.04},{"t":136.5,"a":0.05,"b":0.05,"c":-0.03},{"t":136.75,"a":-0.06,"b":-0.03,"c":-0.03},
{"t":137,"a":0.08,"b":0.03,"c":0.03},{"t":137.25,"a":-0.06,"b":-0.04,"c":0.03},{"t":137.5,"a":0.07,"b":0.04,"c":-0.04},{"t":137.75,"a":-0.05,"b":-0.04,"c":-0.03},
{"t":138,"a":0.05,"b":0.05,"c":0.04},{"t":138.25,"a":-0.07,"b":-0.03,"c":0.03},{"t":138.5,"a":0.06,"b":0.03,"c":-0.03},{"t":138.75,"a":-0.07,"b":-0.05,"c":-0.03},
{"t":139,"a":0.07,"b":0.04,"c":0.03},{"t":139.25,"a":-0.06,"b":-0.04,"c":0.03},{"t":139.5,"a":0.05,"b":0.05,"c":-0.03},{"t":139.75,"a":-0.06,"b":-0.03,"c":-0.03},
{"t":140,"a":0.06,"b":0.03,"c":0.03},{"t":140.25,"a":-0.05,"b":-0.04,"c":0.03},{"t":140.5,"a":0.07,"b":0.04,"c":-0.03},{"t":140.75,"a":-0.06,"b":0.07,"c":-0.03},
{"t":141,"a":0.13,"b":-0.05,"c":0.02},{"t":141.25,"a":-0.08,"b":0.04,"c":0.03},{"t":141.5,"a":0.06,"b":-0.04,"c":-0.02},{"t":141.75,"a":-0.07,"b":0.03,"c":-0.03},
{"t":142,"a":0.05,"b":-0.04,"c":0.02},{"t":142.25,"a":-0.06,"b":0.03,"c":0.02},{"t":142.5,"a":0.04,"b":-0.03,"c":-0.02},{"t":142.75,"a":-0.07,"b":0.04,"c":-0.02},
{"t":143,"a":0.06,"b":-0.03,"c":0.02},{"t":143.25,"a":-0.05,"b":0.04,"c":0.015},{"t":143.5,"a":0.07,"b":-0.04,"c":-0.02},{"t":143.75,"a":-0.04,"b":0.03,"c":-0.015},
{"t":144,"a":0.04,"b":-0.04,"c":0.015},{"t":144.25,"a":-0.06,"b":0.03,"c":0.02},{"t":144.5,"a":0.05,"b":-0.03,"c":-0.015},{"t":144.75,"a":-0.06,"b":0.04,"c":-0.02},
{"t":145,"a":0.07,"b":-0.03,"c":0.02},{"t":145.25,"a":-0.05,"b":0.05,"c":0.025},{"t":145.5,"a":0.04,"b":-0.04,"c":-0.02},{"t":145.75,"a":-0.05,"b":0.03,"c":-0.02},
{"t":146,"a":0.05,"b":-0.04,"c":0.02},{"t":146.25,"a":-0.07,"b":0.03,"c":0.02},{"t":146.5,"a":0.06,"b":-0.03,"c":-0.025},{"t":146.75,"a":-0.04,"b":0.04,"c":-0.02},
{"t":147,"a":0.04,"b":-0.03,"c":0.015},{"t":147.25,"a":-0.05,"b":0.04,"c":0.02},{"t":147.5,"a":0.07,"b":-0.04,"c":-0.02},{"t":147.75,"a":-0.06,"b":0.03,"c":-0.015},
{"t":148,"a":0.06,"b":-0.04,"c":0.02},{"t":148.25,"a":-0.04,"b":0.03,"c":0.015},{"t":148.5,"a":0.05,"b":-0.03,"c":-0.02},{"t":148.75,"a":-0.07,"b":0.04,"c":-0.02},
{"t":149,"a":0.05,"b":-0.03,"c":0.02},{"t":149.25,"a":-0.06,"b":0.04,"c":0.02},{"t":149.5,"a":0.06,"b":-0.04,"c":-0.015},{"t":149.75,"a":-0.05,"b":0.03,"c":-0.02},
{"t":150,"a":0.07,"b":-0.04,"c":0.015},{"t":150.25,"a":-0.05,"b":0.03,"c":0.02},{"t":150.5,"a":0.04,"b":-0.03,"c":-0.02},{"t":150.75,"a":-0.06,"b":0.04,"c":-0.015},
{"t":151,"a":0.04,"b":-0.03,"c":0.02},{"t":151.25,"a":-0.06,"b":0.04,"c":0.02},{"t":151.5,"a":0.06,"b":-0.05,"c":-0.02},{"t":151.75,"a":-0.05,"b":0.03,"c":-0.02},
{"t":152,"a":0.06,"b":-0.04,"c":0.02},{"t":152.25,"a":-0.05,"b":0.03,"c":0.015},{"t":152.5,"a":0.05,"b":-0.03,"c":-0.02},{"t":152.75,"a":-0.07,"b":0.04,"c":-0.015},
{"t":153,"a":0.05,"b":-0.03,"c":0.015},{"t":153.25,"a":-0.07,"b":0.04,"c":0.02},{"t":153.5,"a":0.06,"b":-0.04,"c":-0.015},{"t":153.75,"a":-0.04,"b":0.03,"c":-0.02},
{"t":154,"a":0.07,"b":-0.04,"c":0.02},{"t":154.25,"a":-0.05,"b":0.03,"c":0.02},{"t":154.5,"a":0.05,"b":-0.03,"c":-0.02},{"t":154.75,"a":-0.06,"b":0.04,"c":-0.02},
{"t":155,"a":0.05,"b":-0.03,"c":0.02},{"t":155.25,"a":-0.06,"b":0.04,"c":0.015},{"t":155.5,"a":0.07,"b":-0.04,"c":-0.02},{"t":155.75,"a":-0.05,"b":0.03,"c":-0.015},
{"t":156,"a":0.06,"b":-0.04,"c":0.015},{"t":156.25,"a":-0.04,"b":0.03,"c":0.02},{"t":156.5,"a":0.05,"b":-0.03,"c":-0.02},{"t":156.75,"a":-0.06,"b":0.04,"c":-0.02},
{"t":157,"a":0.04,"b":-0.03,"c":0.02},{"t":157.25,"a":-0.06,"b":0.05,"c":0.02},{"t":157.5,"a":0.06,"b":-0.04,"c":-0.015},{"t":157.75,"a":-0.07,"b":0.03,"c":-0.02},
{"t":158,"a":0.07,"b":-0.04,"c":0.02},{"t":158.25,"a":-0.05,"b":0.03,"c":0.015},{"t":158.5,"a":0.04,"b":-0.03,"c":-0.02},{"t":158.75,"a":-0.05,"b":0.04,"c":-0.015},
{"t":159,"a":0.05,"b":-0.03,"c":0.015},{"t":159.25,"a":-0.06,"b":0.04,"c":0.02},{"t":159.5,"a":0.06,"b":-0.04,"c":-0.02},{"t":159.75,"a":-0.04,"b":0.03,"c":-0.02},
{"t":160,"a":0.06,"b":-0.04,"c":0.02},{"t":160.25,"a":-0.07,"b":0.03,"c":0.02},{"t":160.5,"a":0.05,"b":-0.03,"c":-0.02},{"t":160.75,"a":-0.06,"b":0.04,"c":-0.015},
{"t":161,"a":0.05,"b":-0.03,"c":0.02},{"t":161.25,"a":-0.05,"b":0.04,"c":0.015},{"t":161.5,"a":0.07,"b":-0.04,"c":-0.015},{"t":161.75,"a":-0.05,"b":0.03,"c":-0.02},
{"t":162,"a":0.06,"b":-0.04,"c":0.015},{"t":162.25,"a":-0.06,"b":0.03,"c":0.02},{"t":162.5,"a":0.05,"b":-0.03,"c":-0.02},{"t":162.75,"a":-0.07,"b":0.04,"c":-0.02},
{"t":163,"a":0.04,"b":-0.03,"c":0.02},{"t":163.25,"a":-0.05,"b":0.04,"c":0.02},{"t":163.5,"a":0.06,"b":-0.04,"c":-0.02},{"t":163.75,"a":-0.05,"b":0.03,"c":-0.015},
{"t":164,"a":0.07,"b":-0.04,"c":0.02},{"t":164.25,"a":-0.06,"b":0.03,"c":0.015},{"t":164.5,"a":0.05,"b":-0.03,"c":-0.02},{"t":164.75,"a":-0.06,"b":0.04,"c":-0.02},
{"t":165,"a":0.05,"b":-0.03,"c":0.015},{"t":165.25,"a":-0.07,"b":0.04,"c":0.02},{"t":165.5,"a":0.06,"b":-0.04,"c":-0.015},{"t":165.75,"a":-0.05,"b":0.03,"c":-0.02},
{"t":166,"a":0.06,"b":-0.04,"c":0.02},{"t":166.25,"a":-0.05,"b":0.03,"c":0.02},{"t":166.5,"a":0.07,"b":-0.03,"c":-0.02},{"t":166.75,"a":-0.06,"b":0.04,"c":-0.015},
{"t":167,"a":0.05,"b":-0.03,"c":0.02},{"t":167.25,"a":-0.06,"b":0.04,"c":0.015},{"t":167.5,"a":0.05,"b":-0.04,"c":-0.02},{"t":167.75,"a":-0.07,"b":0.03,"c":-0.02},
{"t":168,"a":0.07,"b":-0.04,"c":0.015},{"t":168.25,"a":-0.05,"b":0.03,"c":0.02},{"t":168.5,"a":0.06,"b":-0.03,"c":-0.02},{"t":168.75,"a":-0.05,"b":0.04,"c":-0.02},
{"t":169,"a":0.05,"b":-0.03,"c":0.02},{"t":169.25,"a":-0.06,"b":0.04,"c":0.02},{"t":169.5,"a":0.05,"b":-0.04,"c":-0.015},{"t":169.75,"a":-0.06,"b":0.03,"c":-0.015},
{"t":170,"a":0.06,"b":-0.04,"c":0.02},{"t":170.25,"a":-0.07,"b":0.03,"c":0.015},{"t":170.5,"a":0.07,"b":-0.03,"c":-0.02},{"t":170.75,"a":-0.05,"b":0.04,"c":-0.02},
{"t":171,"a":0.05,"b":-0.03,"c":0.015},{"t":171.25,"a":-0.05,"b":0.04,"c":0.02},{"t":171.5,"a":0.06,"b":-0.04,"c":-0.02},{"t":171.75,"a":-0.06,"b":0.03,"c":-0.02},
{"t":172,"a":0.07,"b":-0.04,"c":0.02},{"t":172.25,"a":-0.06,"b":0.03,"c":0.02},{"t":172.5,"a":0.05,"b":-0.03,"c":-0.02},{"t":172.75,"a":-0.07,"b":0.04,"c":-0.015},
{"t":173,"a":0.05,"b":-0.03,"c":0.02},{"t":173.25,"a":-0.05,"b":0.04,"c":0.015},{"t":173.5,"a":0.06,"b":-0.04,"c":-0.015},{"t":173.75,"a":-0.05,"b":0.03,"c":-0.02},
{"t":174,"a":0.06,"b":-0.04,"c":0.015},{"t":174.25,"a":-0.06,"b":0.03,"c":0.02},{"t":174.5,"a":0.07,"b":-0.03,"c":-0.02},{"t":174.75,"a":-0.06,"b":0.04,"c":-0.02},
{"t":175,"a":0.05,"b":-0.03,"c":0.02},{"t":175.25,"a":-0.07,"b":0.04,"c":0.02},{"t":175.5,"a":0.05,"b":-0.04,"c":-0.02},{"t":175.75,"a":-0.05,"b":0.03,"c":-0.015},
{"t":176,"a":0.07,"b":-0.04,"c":0.02},{"t":176.25,"a":-0.05,"b":0.03,"c":0.015},{"t":176.5,"a":0.06,"b":-0.03,"c":-0.02},{"t":176.75,"a":-0.06,"b":0.04,"c":-0.02},
{"t":177,"a":0.05,"b":-0.03,"c":0.015},{"t":177.25,"a":-0.06,"b":0.04,"c":0.02},{"t":177.5,"a":0.07,"b":-0.04,"c":-0.015},{"t":177.75,"a":-0.05,"b":0.03,"c":-0.02},
{"t":178,"a":0.06,"b":-0.04,"c":0.02},{"t":178.25,"a":-0.05,"b":0.03,"c":0.02},{"t":178.5,"a":0.05,"b":-0.03,"c":-0.02},{"t":178.75,"a":-0.07,"b":0.04,"c":-0.015},
{"t":179,"a":0.05,"b":-0.03,"c":0.02},{"t":179.25,"a":-0.06,"b":0.04,"c":0.015},{"t":179.5,"a":0.06,"b":-0.04,"c":-0.02},{"t":179.75,"a":-0.05,"b":0.03,"c":-0.02},
{"t":180,"a":0.03,"b":0.01,"c":0}
]},
"spacing": 81,
"bounds": "flush",
"vconcat": [
{
  "width": 2835, "height": 470,
  "title": {"text": ["Kyoto University Clock Tower", "NS-comp.", "Triggered time:\u00a0\u00a0\u00a0\u00a0\u00a0\u00a0\u00a0\u00a0\u00a0\u00a02026/06/16 19:47:19", "Data points:\u00a0\u00a0\u00a0\u00a0\u00a0\u00a0\u00a0\u00a0\u00a0\u00a0\u00a0\u00a0\u00a0\u00a0\u00a0\u00a0\u00a018000", "Sampling freq. (Hz): 100"], "anchor": "start", "frame": "group", "orient": "top", "baseline": "bottom", "fontSize": 45, "fontWeight": "normal", "lineHeight": 54, "color": "black", "font": "Noto Sans CJK JP", "offset": 45},
  "layer": [
    {"mark": {"type": "line", "color": "#0000ff", "strokeWidth": 2.5},
     "encoding": {
       "x": {"field": "t", "type": "quantitative", "scale": {"domain": [0, 180], "nice": false, "zero": false},
             "axis": {"values": [0,2,4,6,8,10,12,14,16,18,20,22,24,26,28,30,32,34,36,38,40,42,44,46,48,50,52,54,56,58,60,62,64,66,68,70,72,74,76,78,80,82,84,86,88,90,92,94,96,98,100,102,104,106,108,110,112,114,116,118,120,122,124,126,128,130,132,134,136,138,140,142,144,146,148,150,152,154,156,158,160,162,164,166,168,170,172,174,176,178,180], "labels": false, "title": null, "tickSize": {"condition": {"test": "datum.value % 20 === 0", "value": 14}, "value": 8}}},
       "y": {"field": "a", "type": "quantitative", "scale": {"domain": [-2, 2], "nice": false},
             "axis": {"values": [-2,-1,0,1,2], "format": "d", "labelExpr": "datum.value % 2 === 0 ? datum.label : ''", "tickSize": {"condition": {"test": "datum.value % 2 === 0", "value": 14}, "value": 8}, "labelPadding": 7, "title": "Acceleration (gal)", "titlePadding": 10}}
     }},
    {"data": {"values": [{"name": "塔頂", "max": "max. = 1.56 gal"}]},
     "mark": {"type": "text", "align": "left", "baseline": "middle", "fontSize": 45, "color": "black"},
     "encoding": {"x": {"datum": 3.6}, "y": {"datum": 1.85}, "text": {"field": "name"}}},
    {"data": {"values": [{"name": "塔頂", "max": "max. = 1.56 gal"}]},
     "mark": {"type": "text", "align": "right", "baseline": "middle", "fontSize": 39, "color": "black"},
     "encoding": {"x": {"datum": 176.4}, "y": {"datum": 1.85}, "text": {"field": "max"}}}
  ]
},
{
  "width": 2835, "height": 470,
  "layer": [
    {"mark": {"type": "line", "color": "#0000ff", "strokeWidth": 2.5},
     "encoding": {
       "x": {"field": "t", "type": "quantitative", "scale": {"domain": [0, 180], "nice": false, "zero": false},
             "axis": {"values": [0,2,4,6,8,10,12,14,16,18,20,22,24,26,28,30,32,34,36,38,40,42,44,46,48,50,52,54,56,58,60,62,64,66,68,70,72,74,76,78,80,82,84,86,88,90,92,94,96,98,100,102,104,106,108,110,112,114,116,118,120,122,124,126,128,130,132,134,136,138,140,142,144,146,148,150,152,154,156,158,160,162,164,166,168,170,172,174,176,178,180], "labels": false, "title": null, "tickSize": {"condition": {"test": "datum.value % 20 === 0", "value": 14}, "value": 8}}},
       "y": {"field": "b", "type": "quantitative", "scale": {"domain": [-2, 2], "nice": false},
             "axis": {"values": [-2,-1,0,1,2], "format": "d", "labelExpr": "datum.value % 2 === 0 ? datum.label : ''", "tickSize": {"condition": {"test": "datum.value % 2 === 0", "value": 14}, "value": 8}, "labelPadding": 7, "title": "Acceleration (gal)", "titlePadding": 10}}
     }},
    {"data": {"values": [{"name": "塔底", "max": "max. = 0.64 gal"}]},
     "mark": {"type": "text", "align": "left", "baseline": "middle", "fontSize": 45, "color": "black"},
     "encoding": {"x": {"datum": 3.6}, "y": {"datum": 1.85}, "text": {"field": "name"}}},
    {"data": {"values": [{"name": "塔底", "max": "max. = 0.64 gal"}]},
     "mark": {"type": "text", "align": "right", "baseline": "middle", "fontSize": 39, "color": "black"},
     "encoding": {"x": {"datum": 176.4}, "y": {"datum": 1.85}, "text": {"field": "max"}}}
  ]
},
{
  "width": 2835, "height": 470,
  "title": {"text": "(c) SMS-DPRI, Kyoto University", "orient": "bottom", "anchor": "end", "frame": "group", "baseline": "top", "fontSize": 39, "fontWeight": "normal", "color": "black", "font": "Noto Sans CJK JP", "offset": -7},
  "layer": [
    {"mark": {"type": "line", "color": "#0000ff", "strokeWidth": 2.5},
     "encoding": {
       "x": {"field": "t", "type": "quantitative", "scale": {"domain": [0, 180], "nice": false, "zero": false},
             "axis": {"values": [0,2,4,6,8,10,12,14,16,18,20,22,24,26,28,30,32,34,36,38,40,42,44,46,48,50,52,54,56,58,60,62,64,66,68,70,72,74,76,78,80,82,84,86,88,90,92,94,96,98,100,102,104,106,108,110,112,114,116,118,120,122,124,126,128,130,132,134,136,138,140,142,144,146,148,150,152,154,156,158,160,162,164,166,168,170,172,174,176,178,180], "labelExpr": "datum.value % 20 === 0 ? datum.label : ''", "labelPadding": 4, "title": "Time (s)", "titlePadding": 8, "tickSize": {"condition": {"test": "datum.value % 20 === 0", "value": 14}, "value": 8}}},
       "y": {"field": "c", "type": "quantitative", "scale": {"domain": [-2, 2], "nice": false},
             "axis": {"values": [-2,-1,0,1,2], "format": "d", "labelExpr": "datum.value % 2 === 0 ? datum.label : ''", "tickSize": {"condition": {"test": "datum.value % 2 === 0", "value": 14}, "value": 8}, "labelPadding": 7, "title": "Acceleration (gal)", "titlePadding": 10}}
     }},
    {"data": {"values": [{"name": "基盤", "max": "max. = 0.32 gal"}]},
     "mark": {"type": "text", "align": "left", "baseline": "middle", "fontSize": 45, "color": "black"},
     "encoding": {"x": {"datum": 3.6}, "y": {"datum": 1.85}, "text": {"field": "name"}}},
    {"data": {"values": [{"name": "基盤", "max": "max. = 0.32 gal"}]},
     "mark": {"type": "text", "align": "right", "baseline": "middle", "fontSize": 39, "color": "black"},
     "encoding": {"x": {"datum": 176.4}, "y": {"datum": 1.85}, "text": {"field": "max"}}}
  ]
}
]
}
